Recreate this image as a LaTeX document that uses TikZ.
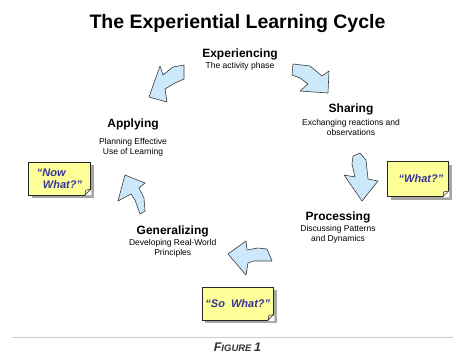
\documentclass[tikz,border=0pt]{standalone}
\usepackage{fontspec}
\setmainfont{Liberation Sans}
\usetikzlibrary{positioning, shadows, calc}

\definecolor{arrowblue}{HTML}{CCE9FB}
\definecolor{arrowline}{HTML}{3A3A3A}
\definecolor{noteyellow}{HTML}{FFFF99}
\definecolor{noteblue}{HTML}{33339A}

\begin{document}
\begin{tikzpicture}[
    x=1pt, y=-1pt,
    node distance=12pt, on grid,
    phase/.style={font=\bfseries\fontsize{12}{14}\selectfont, inner sep=0pt},
    desc/.style={font=\fontsize{8.5}{10}\selectfont, align=center, inner sep=0pt},
    note/.style={rectangle, draw=black!85, fill=noteyellow, line width=0.6pt, minimum height=33pt, align=left,
        text=noteblue, font=\bfseries\itshape\fontsize{11}{12}\selectfont,
        drop shadow={shadow xshift=3pt, shadow yshift=-3pt, fill=black!35, opacity=1}},
    fold/.style={fill=noteyellow!70!black!25, draw=black!85, line width=0.5pt, line join=round},
    blockarrow/.style={draw=arrowline, fill=arrowblue, line width=0.6pt, line join=round}
]
\useasboundingbox (0,0) rectangle (453,354);

% Title
\node[font=\bfseries\fontsize{19.5}{22}\selectfont] (title) at (237.5,23) {The Experiential Learning Cycle};

% Phases of the cycle
\node[phase] (exp) at (240,54) {Experiencing};
\node[desc, below=12pt of exp] (expdesc) {The activity phase};

\node[phase] (shr) at (351,109) {Sharing};
\node[desc, below=18pt of shr] (shrdesc) {Exchanging reactions and\\observations};

\node[phase] (proc) at (338,217) {Processing};
\node[desc, below=17pt of proc] (procdesc) {Discussing Patterns\\and Dynamics};

\node[phase] (gen) at (172.7,231) {Generalizing};
\node[desc, below=17pt of gen] (gendesc) {Developing Real-World\\Principles};

\node[phase] (app) at (133,124.5) {Applying};
\node[desc, below=23pt of app] (appdesc) {Planning Effective\\Use of Learning};

% Block arrows round the cycle
\draw[blockarrow] (160,66) -- (149,97) -- (167,102) -- (165,89) -- (175,83) -- (184,79) -- (184,65) -- (173,67) -- (163,75) -- cycle;
\draw[blockarrow] (293,64) -- (310,66) -- (322,76) -- (329,71) -- (328,93) -- (300,91) -- (308,84) -- (300,78) -- (292,75) -- cycle;
\draw[blockarrow] (353,156) -- (360,153) -- (366,160) -- (368,179) -- (378,181) -- (362,201) -- (344,175) -- (355,177) -- (352,164) -- cycle;
\draw[blockarrow] (228,254) -- (246,241) -- (247,250) -- (258,248) -- (267,249) -- (272,261) -- (254,261) -- (248,263) -- (246,275) -- cycle;
\draw[blockarrow] (125,175) -- (145,183) -- (139,188) -- (144,198) -- (145,211) -- (140,214) -- (135,200) -- (131,194) -- (118,201) -- cycle;

% Sticky notes
\node[note, minimum width=62pt] (now) at (59.5,178.3) {“Now\\\hspace*{6pt}What?”};
\node[note, minimum width=61pt, minimum height=35pt] (what) at (418,179) {\hspace*{6pt}“What?”};
\node[note, minimum width=71pt] (sowhat) at (237.8,303.7) {“So~ What?”};

% Folded corners
\fill[white] ($(now.south east)+(-6,0.6)$) -- ++(6.6,0) -- ++(0,-6.6) -- cycle;
\draw[fold] ($(now.south east)+(-6,0)$) -- ++(1,-5) -- ++(5,-1) -- cycle;
\fill[white] ($(what.south east)+(-6,0.6)$) -- ++(6.6,0) -- ++(0,-6.6) -- cycle;
\draw[fold] ($(what.south east)+(-6,0)$) -- ++(1,-5) -- ++(5,-1) -- cycle;
\fill[white] ($(sowhat.south east)+(-6,0.6)$) -- ++(6.6,0) -- ++(0,-6.6) -- cycle;
\draw[fold] ($(sowhat.south east)+(-6,0)$) -- ++(1,-5) -- ++(5,-1) -- cycle;

% Rule and caption
\draw[black!20, line width=0.8pt] (12,337) -- (453,337);
\node[font=\bfseries\itshape, text=black!80] (fig) at (237.5,347.5) {\fontsize{12.5}{14}\selectfont F\fontsize{9.5}{11}\selectfont IGURE \fontsize{12.5}{14}\selectfont 1};
\end{tikzpicture}
\end{document}
